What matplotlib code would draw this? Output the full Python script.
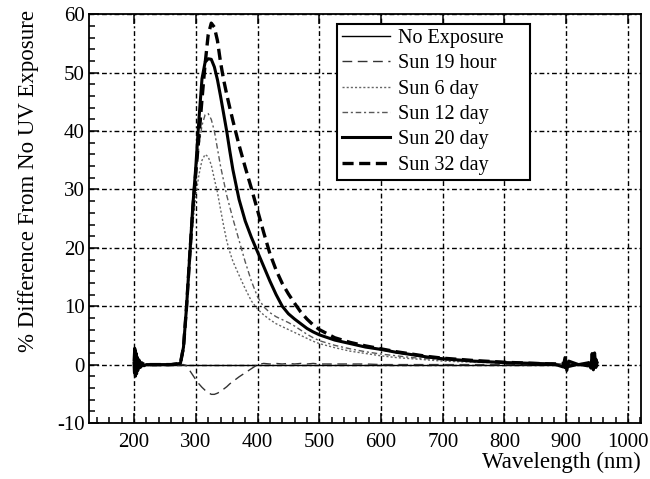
import matplotlib
matplotlib.use("Agg")
import matplotlib.pyplot as plt
from matplotlib.ticker import MultipleLocator

plt.rcParams['font.family'] = ['Liberation Serif', 'DejaVu Serif']
plt.rcParams['lines.scale_dashes'] = False
plt.rcParams['axes.unicode_minus'] = False

# Wavelength grid (nm), dense at the noisy ends of the scan
wavelength = [200, 201, 202, 203, 204, 205, 206, 208, 210, 213, 216, 220, 240, 260,
              275, 280, 285, 290, 295, 300, 305, 310, 315, 320, 325, 330, 335, 340,
              345, 350, 355, 360, 370, 380, 390, 400, 410, 420, 430, 440, 450, 460,
              470, 480, 490, 500, 525, 550, 575, 600, 625, 650, 675, 700, 750, 800,
              850, 880, 895, 898, 901, 904, 920, 935, 940, 942, 944, 946, 948, 950]

# % difference relative to the unexposed sample
no_exposure = [0.0] * len(wavelength)

sun_19_hour = [0.4, -1.8, 2.2, -1.2, 1.0, -0.8, 0.6, -0.4, 0.3, -0.2, 0.1, 0.0, 0.0, 0.0,
               0.0, 0.0, -0.2, -1.0, -1.8, -2.6, -3.3, -3.9, -4.4, -4.8, -5.1, -5.1, -4.9, -4.6,
               -4.2, -3.8, -3.3, -2.9, -2.1, -1.4, -0.7, 0.0, 0.2, 0.1, 0.2, 0.1, 0.2, 0.1,
               0.2, 0.1, 0.2, 0.1, 0.1, 0.1, 0.1, 0.0, 0.0, 0.0, 0.0, 0.0, 0.0, 0.0,
               0.0, 0.2, -0.3, 0.9, -0.8, 0.3, 0.0, 0.2, -0.5, 1.2, -0.4, 1.5, -0.3, 0.2]

sun_6_day = [0.2, 0.8, -0.6, 0.5, -0.4, 0.3, -0.2, 0.1, 0.0, 0.0, 0.0, 0.0, 0.0, 0.0,
             0.0, 2.0, 9.0, 17.0, 24.0, 29.0, 32.5, 35.0, 36.0, 35.6, 34.2, 31.8, 29.5, 26.6,
             23.8, 21.2, 19.3, 17.7, 15.3, 13.0, 10.9, 9.5, 8.5, 7.7, 7.0, 6.5, 6.0, 5.5,
             5.0, 4.5, 4.0, 3.6, 2.9, 2.3, 1.9, 1.5, 1.2, 1.0, 0.8, 0.6, 0.4, 0.3,
             0.2, 0.1, 0.1, 0.1, 0.1, 0.1, 0.1, 0.0, 0.0, 0.0, 0.0, 0.0, 0.0, 0.0]

sun_12_day = [0.3, -1.0, 1.2, -0.8, 0.6, -0.5, 0.3, -0.2, 0.1, 0.0, 0.0, 0.0, 0.0, 0.0,
              0.0, 2.5, 9.5, 18.0, 26.0, 32.0, 37.5, 41.0, 42.8, 43.0, 42.0, 40.0, 37.0, 34.0,
              31.5, 29.0, 27.0, 25.0, 21.3, 17.6, 14.3, 11.6, 9.9, 8.9, 8.2, 7.7, 7.2, 6.6,
              5.9, 5.2, 4.6, 4.1, 3.3, 2.7, 2.2, 1.8, 1.5, 1.2, 1.0, 0.8, 0.5, 0.3,
              0.2, 0.2, 0.1, 0.3, -0.2, 0.1, 0.1, 0.1, 0.3, -0.2, 0.4, -0.1, 0.2, 0.0]

sun_20_day = [0.8, 2.8, -2.0, 2.0, -1.6, 1.3, -1.0, 0.8, -0.5, 0.3, -0.2, 0.0, 0.0, 0.0,
              0.2, 3.0, 10.0, 18.5, 27.0, 34.0, 42.0, 49.0, 51.8, 52.4, 52.3, 51.0, 48.8, 46.0,
              43.0, 40.0, 36.6, 33.4, 28.3, 24.6, 21.8, 19.3, 16.8, 14.3, 12.0, 10.0, 8.7, 7.8,
              7.0, 6.2, 5.6, 5.1, 4.2, 3.6, 3.0, 2.6, 2.1, 1.7, 1.3, 1.0, 0.6, 0.35,
              0.2, 0.1, -0.4, 1.2, -1.0, 0.6, 0.0, 0.3, -0.6, 1.9, -0.9, 2.0, -0.5, 0.3]

sun_32_day = [0.5, -2.0, 2.4, -1.5, 1.4, -1.1, 0.9, -0.6, 0.4, -0.2, 0.1, 0.0, 0.0, 0.0,
              0.2, 3.0, 10.0, 18.5, 26.5, 33.0, 39.0, 45.5, 51.5, 56.5, 58.5, 57.8, 55.5, 51.8,
              48.8, 46.3, 44.0, 41.8, 37.6, 33.8, 30.2, 26.4, 22.6, 19.0, 16.2, 13.9, 12.1, 10.5,
              9.0, 7.8, 6.8, 6.0, 4.6, 3.8, 3.2, 2.7, 2.2, 1.8, 1.4, 1.1, 0.7, 0.4,
              0.2, 0.1, 0.2, -0.5, 0.8, -0.3, 0.1, -0.2, 1.0, -0.5, 1.4, -0.8, 0.9, 0.0]

series_labels = ['No Exposure', 'Sun 19 hour', 'Sun 6 day', 'Sun 12 day', 'Sun 20 day', 'Sun 32 day']

x_ticks = [200, 300, 400, 500, 600, 700, 800, 900, 1000]
y_ticks = [-10, 0, 10, 20, 30, 40, 50, 60]

fig = plt.figure(figsize=(6.5, 4.79), dpi=100)
ax = fig.add_axes([0.137, 0.117, 0.849, 0.853])

styles = [
    dict(color='black', lw=1.0, ls='-'),
    dict(color='0.2', lw=1.0, ls=(0, (7, 4))),
    dict(color='0.4', lw=1.0, ls=(0, (1.5, 1.5))),
    dict(color='0.35', lw=1.0, ls=(0, (4, 2, 1.5, 2))),
    dict(color='black', lw=2.2, ls='-'),
    dict(color='black', lw=2.4, ls=(0, (8, 4))),
]
all_series = [no_exposure, sun_19_hour, sun_6_day, sun_12_day, sun_20_day, sun_32_day]

for vals, lab, st in zip(all_series, series_labels, styles):
    ax.plot(wavelength, vals, label=lab, **st)

ax.set_xlim(127, 1021)
ax.set_ylim(-10, 60)
ax.set_xticks(x_ticks)
ax.set_yticks(y_ticks)
ax.xaxis.set_minor_locator(MultipleLocator(20))
ax.yaxis.set_minor_locator(MultipleLocator(2))

ax.grid(True, which='major', color='black', lw=1.0, ls=(0, (3.5, 2, 1.5, 2)))
ax.set_axisbelow(True)

for sp in ax.spines.values():
    sp.set_linewidth(1.3)

ax.tick_params(which='both', direction='in', top=True, right=False, labelsize=15,
               width=1.1, colors='black')
ax.tick_params(which='major', length=7.5)
ax.tick_params(which='minor', length=4.3, top=False)
ax.tick_params(axis='x', which='major', pad=7)
ax.tick_params(axis='y', which='major', pad=3)

ax.set_xlabel('Wavelength (nm)', fontsize=16.5, loc='right')
ax.xaxis.set_label_coords(1.0, -0.07)
ax.xaxis.label.set_va('top')

ax.set_ylabel('% Difference From No UV Exposure', fontsize=16.5, loc='top')
ax.yaxis.set_label_coords(-0.11, 1.011)
ax.yaxis.label.set_va('center')

leg = ax.legend(loc='upper left', bbox_to_anchor=(0.449, 0.59, 0.35, 0.387), mode='expand',
                borderaxespad=0, fontsize=14.5, handlelength=2.4, handletextpad=0.4,
                labelspacing=0.31, borderpad=0.25, fancybox=False, framealpha=1,
                edgecolor='black')
leg.get_frame().set_linewidth(1.5)

fig.savefig('out.png', dpi=100)
